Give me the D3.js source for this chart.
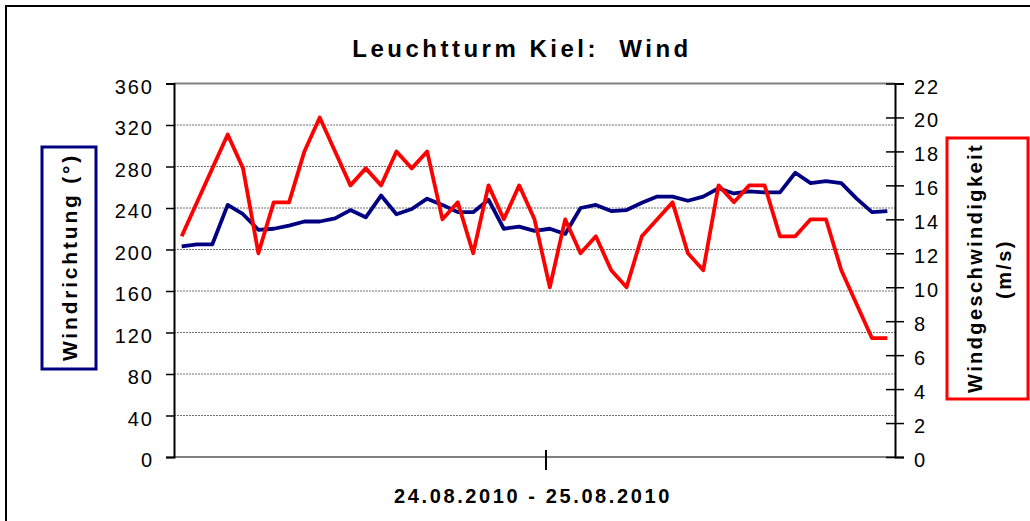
<!DOCTYPE html>
<html>
<head>
<meta charset="utf-8">
<script src="https://d3js.org/d3.v7.min.js"></script>
<title>Leuchtturm Kiel: Wind</title>
<style>
  body { margin: 0; background: #fff; }
  svg { display: block; font-family: "Liberation Sans", Arial, sans-serif; }
  .grid line { stroke: #707070; stroke-width: 1; stroke-dasharray: 2,1; }
  .tick-lbl { font-size: 20px; letter-spacing: 2px; fill: #000; }
</style>
</head>
<body>
<svg width="1030" height="521"></svg>
<script>
// Windrichtung in Grad, je Messpunkt
const windDir = [203,205,205,243,234,219,220,223,227,227,230,238,
                 231,252,234,239,249,243,236,236,248,220,222,218,
                 220,215,240,243,237,238,245,251,251,247,251,259,
                 254,256,255,255,274,264,266,264,249,236,237];
// Windgeschwindigkeit in m/s
const windSpeed = [13,15,17,19,17,12,15,15,18,20,18,16,
                   17,16,18,17,18,14,15,12,16,14,16,14,
                   10,14,12,13,11,10,13,14,15,12,11,16,
                   15,16,16,13,13,14,14,11,9,7,7];
const dirTicks = [0,40,80,120,160,200,240,280,320,360];
const speedTicks = [0,2,4,6,8,10,12,14,16,18,20,22];
const title = "Leuchtturm Kiel:  Wind";
const xTitle = "24.08.2010 - 25.08.2010";
const leftTitle = "Windrichtung (°)";
const rightTitle = ["Windgeschwindigkeit", "(m/s)"];
const midTickIndex = 24;

const svg = d3.select("svg");
const plotL = 174, plotR = 895, plotT = 83.5, plotB = 457;

const idx = windDir.map((d, i) => i);
const x = d3.scaleBand().domain(idx).range([plotL, plotR]).paddingInner(0).paddingOuter(0);
const cx = i => x(i) + x.bandwidth() / 2;
const yL = d3.scaleLinear().domain([0, 360]).range([plotB, plotT]);
const yR = d3.scaleLinear().domain([0, 22]).range([plotB, plotT]);

// outer frame
svg.append("rect").attr("x", 6).attr("y", 6).attr("width", 1040).attr("height", 530)
  .attr("fill", "none").attr("stroke", "#000").attr("stroke-width", 2);

// title
svg.append("text").attr("x", 522).attr("y", 57).attr("text-anchor", "middle")
  .style("white-space", "pre")
  .style("font-size", "24px").style("font-weight", "bold").style("letter-spacing", "3.5px")
  .text(title);

// gridlines
svg.append("g").attr("class", "grid").selectAll("line")
  .data(dirTicks.filter(d => d > 0 && d < 360)).join("line")
  .attr("x1", plotL).attr("x2", plotR)
  .attr("y1", d => yL(d)).attr("y2", d => yL(d));

// plot top border & x axis (gray)
svg.append("line").attr("x1", plotL).attr("x2", plotR).attr("y1", yL(360)).attr("y2", yL(360))
  .attr("stroke", "#808080").attr("stroke-width", 2);
svg.append("line").attr("x1", plotL).attr("x2", plotR).attr("y1", plotB).attr("y2", plotB)
  .attr("stroke", "#808080").attr("stroke-width", 2);
const midX = x(midTickIndex) + x.bandwidth() / 4;
svg.append("line").attr("x1", midX).attr("x2", midX)
  .attr("y1", plotB - 7).attr("y2", plotB + 13).attr("stroke", "#000").attr("stroke-width", 2);

// axes
const axL = svg.append("g").attr("transform", `translate(${plotL},0)`)
  .call(d3.axisLeft(yL).tickValues(dirTicks).tickSize(8).tickFormat(""));
const axR = svg.append("g").attr("transform", `translate(${plotR},0)`)
  .call(d3.axisRight(yR).tickValues(speedTicks).tickSize(9).tickFormat(""));
[axL, axR].forEach(a => {
  a.select(".domain").attr("stroke", "#000").attr("stroke-width", 2);
  a.selectAll(".tick line").attr("stroke", "#000").attr("stroke-width", 1.5);
});
axR.selectAll(".tick").append("line").attr("x1", -9).attr("x2", 0)
  .attr("stroke", "#000").attr("stroke-width", 1.5);

svg.append("g").selectAll("text").data(dirTicks).join("text")
  .attr("class", "tick-lbl").attr("x", 154).attr("y", d => yL(d) + 10)
  .attr("text-anchor", "end").text(d => d);
svg.append("g").selectAll("text").data(speedTicks).join("text")
  .attr("class", "tick-lbl").attr("x", 914).attr("y", d => yR(d) + 10)
  .text(d => d);

// series
const line = (ys, data) => d3.line().x((d, i) => cx(i)).y(d => ys(d))(data);
svg.append("path").attr("d", line(yL, windDir)).attr("fill", "none")
  .attr("stroke", "#000080").attr("stroke-width", 3.8).attr("stroke-linejoin", "round");
svg.append("path").attr("d", line(yR, windSpeed)).attr("fill", "none")
  .attr("stroke", "#ff0000").attr("stroke-width", 3.8).attr("stroke-linejoin", "round");

// x title
svg.append("text").attr("x", 533).attr("y", 503).attr("text-anchor", "middle")
  .style("font-size", "20px").style("font-weight", "bold").style("letter-spacing", "2.6px")
  .text(xTitle);

// left title box
svg.append("rect").attr("x", 42).attr("y", 147).attr("width", 54).attr("height", 222)
  .attr("fill", "#fff").attr("stroke", "#000080").attr("stroke-width", 3);
svg.append("text").attr("transform", "translate(77,257) rotate(-90)").attr("text-anchor", "middle")
  .style("font-size", "21px").style("font-weight", "bold").style("letter-spacing", "2.8px")
  .text(leftTitle);

// right title box
svg.append("rect").attr("x", 947).attr("y", 138).attr("width", 81).attr("height", 261)
  .attr("fill", "#fff").attr("stroke", "#ff0000").attr("stroke-width", 3);
svg.append("text").attr("transform", "translate(982,268) rotate(-90)").attr("text-anchor", "middle")
  .style("font-size", "20px").style("font-weight", "bold").style("letter-spacing", "2.4px")
  .text(rightTitle[0]);
svg.append("text").attr("transform", "translate(1011,269) rotate(-90)").attr("text-anchor", "middle")
  .style("font-size", "20px").style("font-weight", "bold").style("letter-spacing", "2.4px")
  .text(rightTitle[1]);
</script>
</body>
</html>
